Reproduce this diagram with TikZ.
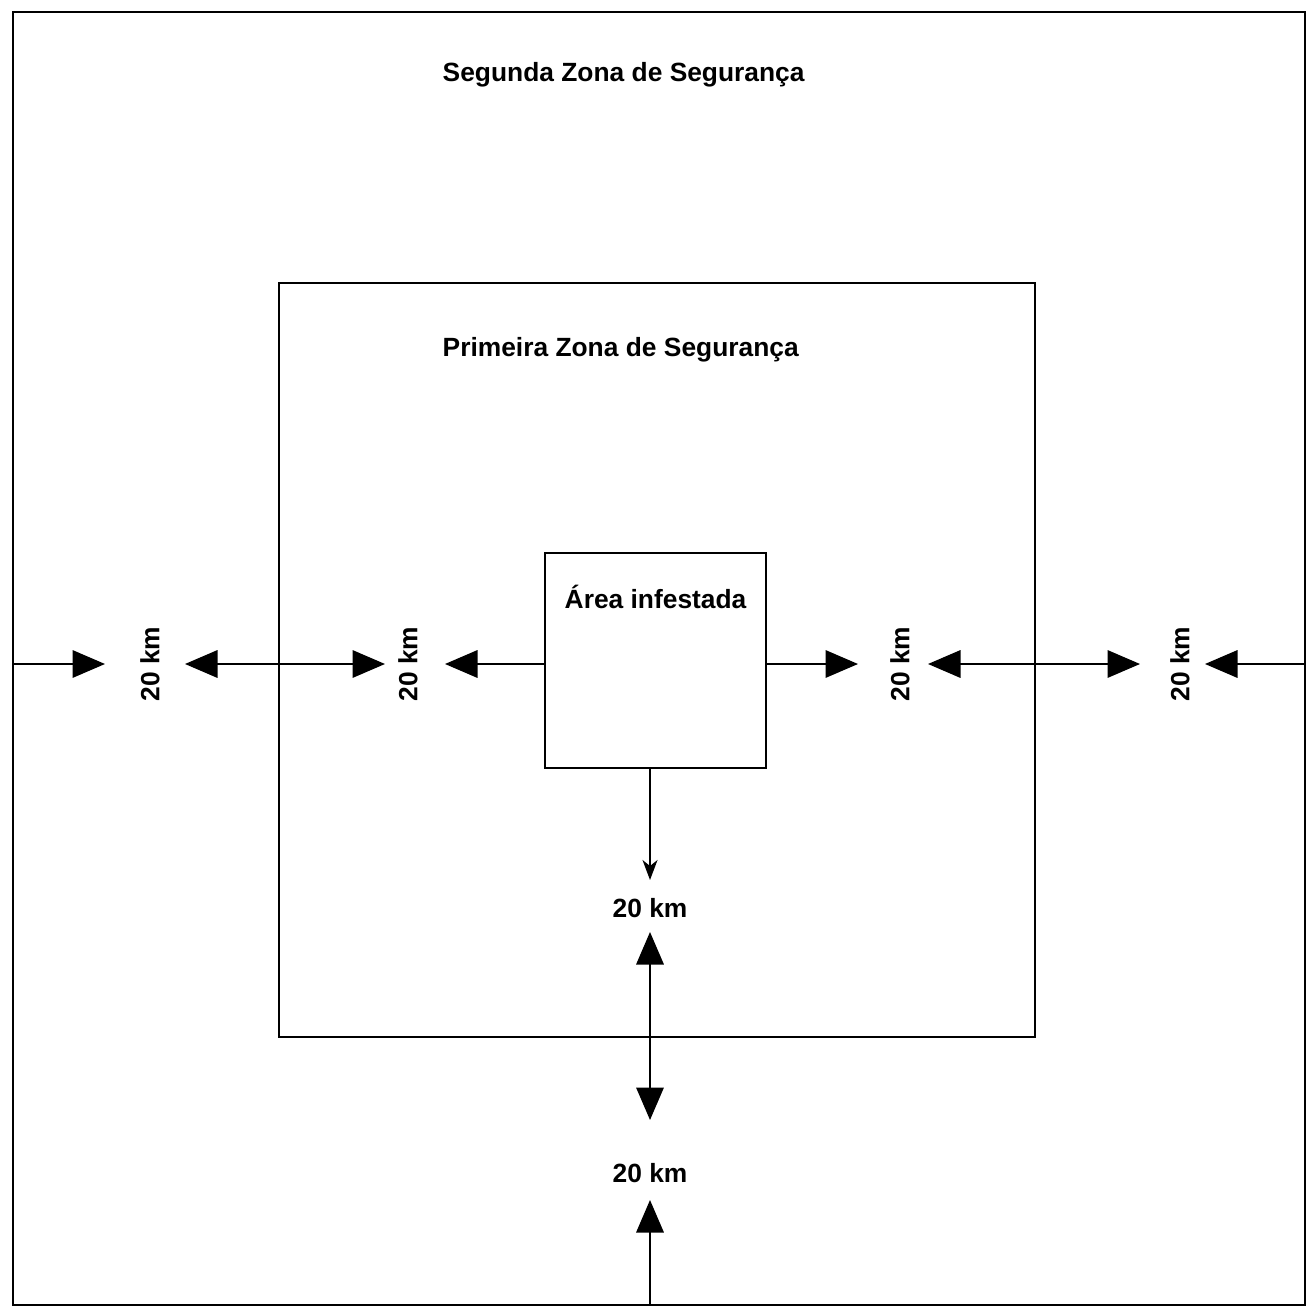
\documentclass[tikz,border=0pt]{standalone}
\usepackage{fontspec}
\setmainfont{Liberation Sans}
\usepackage{tikz}
\usetikzlibrary{arrows.meta,positioning}

\begin{document}
\begin{tikzpicture}[line width=1pt,
  zone/.style={draw,inner sep=0pt},
  lbl/.style={font=\fontsize{15}{18}\selectfont\bfseries},
  km/.style={lbl,rotate=90},
  big/.style={-{Triangle[length=0.65cm,width=0.55cm]}},
  bigboth/.style={{Triangle[length=0.65cm,width=0.55cm]}-{Triangle[length=0.65cm,width=0.55cm]}}]
\useasboundingbox (0,0) rectangle (26.16,-26.28);
% the three zones
\node[zone,minimum width=25.84cm,minimum height=25.86cm] (seg) at (13.18,-13.17) {};
\node[zone,minimum width=15.12cm,minimum height=15.08cm] (pri) at (13.14,-13.2) {};
\node[zone,minimum width=4.42cm,minimum height=4.3cm] (inf) at (13.11,-13.21) {};
\node[lbl,anchor=west] (tseg) at (8.72,-1.5) {Segunda Zona de Segurança};
\node[lbl,anchor=west] (tpri) at (8.72,-7.0) {Primeira Zona de Segurança};
\node[lbl,anchor=west] (tinf) at (11.16,-11.94) {Área infestada};
% distance labels
\node[km] (kmA) at (3.0,-13.28) {20 km};
\node[km] (kmB) at (8.16,-13.28) {20 km};
\node[km] (kmC) at (18.0,-13.28) {20 km};
\node[km] (kmD) at (23.6,-13.28) {20 km};
\node[lbl] (kmE) at (13.0,-18.16) {20 km};
\node[lbl] (kmF) at (13.0,-23.46) {20 km};
% arrow tips
\coordinate (a1) at (2.1,-13.28);
\coordinate (a2) at (3.7,-13.28);
\coordinate (a3) at (7.7,-13.28);
\coordinate (a4) at (8.9,-13.28);
\coordinate (a5) at (17.16,-13.28);
\coordinate (a6) at (18.56,-13.28);
\coordinate (a7) at (22.8,-13.28);
\coordinate (a8) at (24.1,-13.28);
\coordinate (b1) at (13.0,-17.6);
\coordinate (b2) at (13.0,-18.64);
\coordinate (b3) at (13.0,-22.4);
\coordinate (b4) at (13.0,-24.0);
% arrows
\draw[big] (seg.west |- a1) -- (a1);
\draw[bigboth] (a2) -- (a3);
\draw[big] (inf.west |- a4) -- (a4);
\draw[big] (inf.east |- a5) -- (a5);
\draw[bigboth] (a6) -- (a7);
\draw[big] (seg.east |- a8) -- (a8);
\draw[-{Stealth[length=0.4cm,width=0.3cm,inset=0.12cm]}] (inf.south -| b1) -- (b1);
\draw[bigboth] (b2) -- (b3);
\draw[big] (seg.south -| b4) -- (b4);
\end{tikzpicture}
\end{document}
